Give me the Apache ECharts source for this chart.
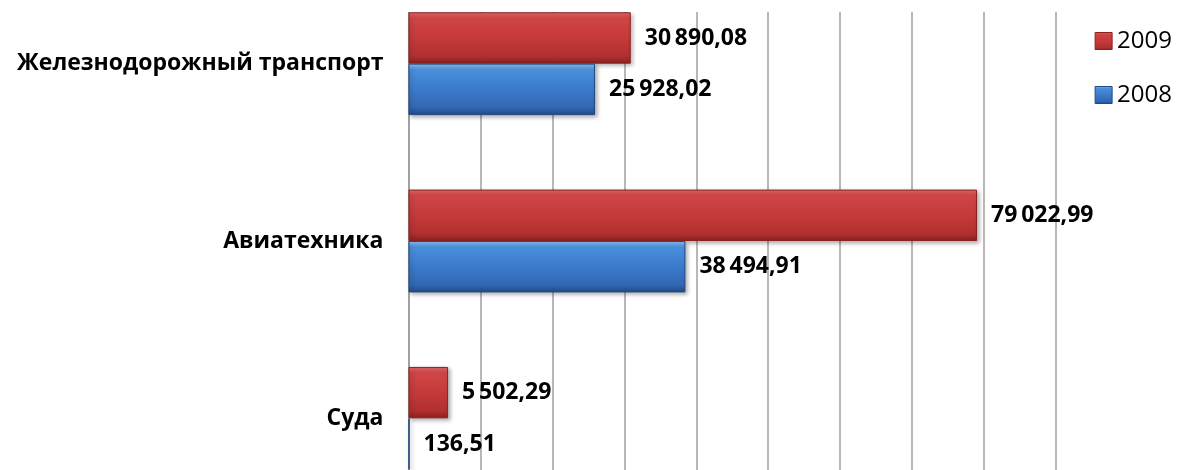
<!DOCTYPE html>
<html>
<head>
<meta charset="utf-8">
<script src="https://cdn.jsdelivr.net/npm/echarts@6/dist/echarts.min.js"></script>
<style>
  html, body { margin: 0; padding: 0; background: #fff; overflow: hidden; }
  /* plot runs past the window edges, as in the cropped original */
  #chart { position: absolute; left: 0; top: -25px; width: 1179px; height: 532px; }
</style>
</head>
<body>
<div id="chart"></div>
<script>
const categories = ['Железнодорожный транспорт', 'Авиатехника', 'Суда']
const values2009 = [30890.08, 79022.99, 5502.29]
const values2008 = [25928.02, 38494.91, 136.51]
const seriesNames = ['2009', '2008']

// bar shading
const COLORS = {
  red: ['#e56a6a', '#d04545', '#c43a3a', '#b23030', '#8c2020'],
  blue: ['#8cc4f5', '#4a8fdc', '#3b7acb', '#3268b3', '#234a85']
}

const gradient = (c) => new echarts.graphic.LinearGradient(0, 0, 0, 1, [
  { offset: 0, color: c[0] },
  { offset: 0.12, color: c[1] },
  { offset: 0.5, color: c[2] },
  { offset: 0.85, color: c[3] },
  { offset: 1, color: c[4] }
])

const fmt = (v) => {
  const [i, d] = v.toFixed(2).split('.')
  return i.replace(/\B(?=(\d{3})+(?!\d))/g, '\u2009') + ',' + d
}

const FONT = 'Open Sans'
const OFFSET = 25

const chart = echarts.init(document.getElementById('chart'))

const barSeries = (name, data, c) => ({
  name,
  type: 'bar',
  data,
  barGap: '0%',
  barCategoryGap: '42%',
  itemStyle: {
    color: gradient(c),
    borderColor: c[4],
    borderWidth: 1,
    shadowBlur: 4,
    shadowOffsetX: 2,
    shadowOffsetY: 2,
    shadowColor: 'rgba(0,0,0,0.3)'
  },
  label: {
    show: true,
    position: 'right',
    distance: 14,
    fontFamily: FONT,
    fontSize: 23,
    fontWeight: 'bold',
    color: '#000',
    formatter: (p) => fmt(p.value)
  }
})

chart.setOption({
  animation: false,
  legend: {
    data: seriesNames,
    orient: 'vertical',
    right: 2,
    top: 24 + OFFSET,
    itemWidth: 17,
    itemHeight: 17,
    itemGap: 30,
    itemStyle: { borderWidth: 1 },
    icon: 'rect',
    textStyle: { fontFamily: FONT, fontSize: 24, color: '#000' }
  },
  grid: {
    left: 408.5,
    right: 123,
    top: 0,
    bottom: 0
  },
  xAxis: {
    type: 'value',
    min: 0,
    max: 90000,
    interval: 10000,
    axisLabel: { show: false },
    axisLine: { show: false },
    axisTick: { show: false },
    splitLine: { lineStyle: { color: '#a0a0a0', width: 1.5 } }
  },
  yAxis: {
    type: 'category',
    data: categories,
    inverse: true,
    axisLine: { lineStyle: { color: '#9a9a9a', width: 1.5 } },
    axisTick: { length: 8, lineStyle: { color: '#9a9a9a' } },
    axisLabel: {
      margin: 25,
      fontFamily: FONT,
      fontSize: 23,
      fontWeight: 'bold',
      color: '#000'
    }
  },
  graphic: [{
    type: 'rect',
    shape: { x: 0, y: 0, width: 1090, height: 12 + OFFSET },
    style: { fill: '#fff' },
    z: 100
  }],
  series: [
    barSeries(seriesNames[0], values2009, COLORS.red),
    barSeries(seriesNames[1], values2008, COLORS.blue)
  ]
})
</script>
</body>
</html>
